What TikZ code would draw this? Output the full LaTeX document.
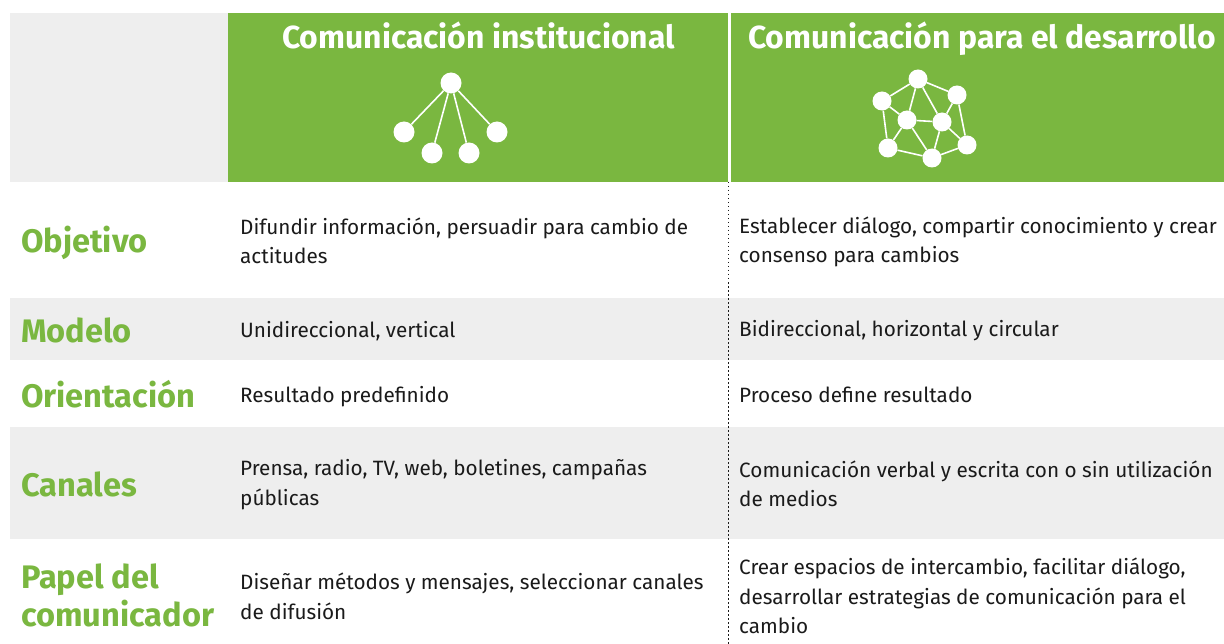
\documentclass[tikz,border=0pt]{standalone}
\usepackage{fontspec}
\setmainfont{Fira Sans}
\definecolor{gr}{HTML}{7AB740}
\definecolor{band}{HTML}{EEEEEE}
\definecolor{ink}{HTML}{1A1A1A}
\tikzset{
 x=1bp,y=-1bp,
 dotnode/.style={circle,fill=white,inner sep=0,minimum size=#1},
 link/.style={draw=white,line width=1.6bp},
 head/.style={text=white,font=\fontsize{32}{34}\selectfont\bfseries,inner sep=0,anchor=base},
 rowlab/.style={text=gr,font=\fontsize{32.7}{38}\selectfont\bfseries,inner sep=0,anchor=west,align=left},
 body/.style={text=ink,font=\fontsize{20.8}{29.5}\selectfont,inner sep=0,anchor=west,align=left},
}
\begin{document}
\begin{tikzpicture}
\useasboundingbox (0,0) rectangle (1224,644);
\fill[white] (0,0) rectangle (1224,644);
\fill[band] (10,13) rectangle (228,182);
\fill[gr] (228,13) rectangle (728,182);
\fill[gr] (731,13) rectangle (1224,182);
\fill[band] (10,298) rectangle (1224,360);
\fill[band] (10,427) rectangle (1224,539);
\coordinate (ds) at (728.5,182);
\coordinate (de) at (728.5,644);
\draw[ink,line width=1.2bp,dash pattern=on 1.5bp off 2.5bp] (ds) -- (de);
\node[head] (h1) at (478.5,49) {Comunicación institucional};
\node[head] (h2) at (982,49) {Comunicación para el desarrollo};
% tree
\node[dotnode=21bp] (t0) at (451,83) {};
\node[dotnode=21bp] (t1) at (404,132) {};
\node[dotnode=21bp] (t2) at (432,153) {};
\node[dotnode=21bp] (t3) at (469,153) {};
\node[dotnode=21bp] (t4) at (497,132) {};
\foreach \n in {t1,t2,t3,t4} \draw[link] (t0) -- (\n);
% network
\node[dotnode=19bp] (a) at (918,79) {};
\node[dotnode=19bp] (b) at (957,95) {};
\node[dotnode=19bp] (c) at (882,101) {};
\node[dotnode=19bp] (d) at (907,120) {};
\node[dotnode=19bp] (e) at (942,122) {};
\node[dotnode=19bp] (f) at (888,148) {};
\node[dotnode=19bp] (g) at (932,158) {};
\node[dotnode=19bp] (k) at (967,145) {};
\foreach \p/\q in {a/c,a/d,a/e,a/b,c/d,c/f,d/e,d/f,d/g,e/b,e/g,e/k,b/k,f/g,g/k} \draw[link] (\p) -- (\q);
% labels
\node[rowlab] (l1) at (21,243) {Objetivo};
\node[rowlab] (l2) at (21,330) {Modelo};
\node[rowlab] (l3) at (21,394) {Orientación};
\node[rowlab] (l4) at (21,484) {Canales};
\node[rowlab] (l5) at (21,595) {Papel del\\comunicador};
% col 1
\node[body] (a1) at (240,241) {Difundir información, persuadir para cambio de\\actitudes};
\node[body] (a2) at (240,331) {Unidireccional, vertical};
\node[body] (a3) at (240,397) {Resultado predefinido};
\node[body] (a4) at (240,484.5) {Prensa, radio, TV, web, boletines, campañas\\públicas};
\node[body] (a5) at (240,596.5) {Diseñar métodos y mensajes, seleccionar canales\\de difusión};
% col 2
\node[body] (b1) at (739,242) {Establecer diálogo, compartir conocimiento y crear\\consenso para cambios};
\node[body] (b2) at (739,331) {Bidireccional, horizontal y circular};
\node[body] (b3) at (739,395) {Proceso define resultado};
\node[body] (b4) at (739,484) {Comunicación verbal y escrita con o sin utilización\\de medios};
\node[body] (b5) at (739,596) {Crear espacios de intercambio, facilitar diálogo,\\desarrollar estrategias de comunicación para el\\cambio};
\end{tikzpicture}
\end{document}
